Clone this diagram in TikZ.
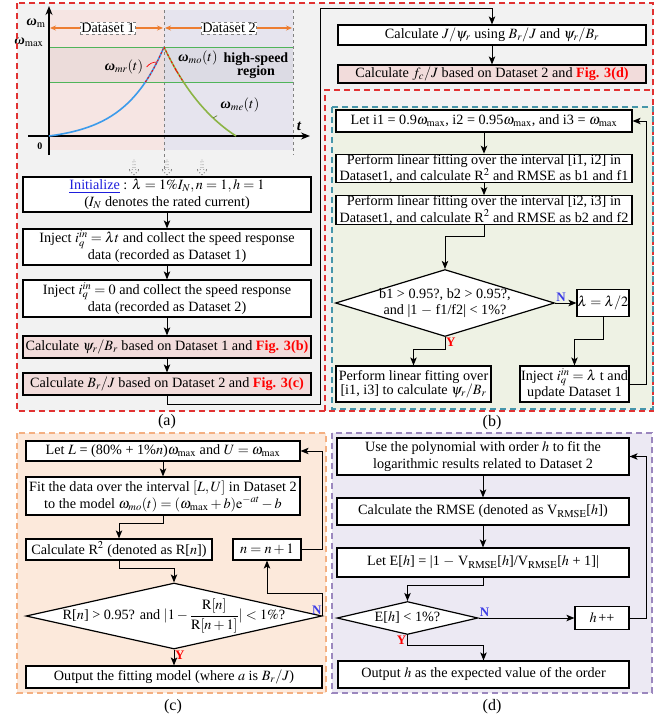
\documentclass[tikz,border=0pt]{standalone}
\usepackage{amsmath}
\usepackage{mathptmx}
\usepackage{fontspec}
\setmainfont{Liberation Serif}
\usetikzlibrary{arrows.meta,shapes.geometric,shapes.arrows}
\definecolor{panelgray}{RGB}{242,242,242}
\definecolor{panelgreen}{RGB}{238,242,228}
\definecolor{panelorange}{RGB}{252,233,219}
\definecolor{panelviolet}{RGB}{236,233,243}
\definecolor{setone}{RGB}{246,229,227}
\definecolor{settwo}{RGB}{230,228,238}
\definecolor{boxpink}{RGB}{242,220,219}
\definecolor{framered}{RGB}{225,50,50}
\definecolor{frameteal}{RGB}{70,150,170}
\definecolor{frameorange}{RGB}{244,176,130}
\definecolor{frameviolet}{RGB}{155,135,190}
\definecolor{dataorange}{RGB}{237,125,49}
\definecolor{speedgreen}{RGB}{80,180,90}
\definecolor{curveblue}{RGB}{60,155,235}
\definecolor{curvegreen}{RGB}{140,180,70}
\definecolor{linkblue}{RGB}{30,30,220}
\definecolor{noblue}{RGB}{60,60,230}
\newcommand{\bw}{{\bfseries\itshape ω}}
\tikzset{
  procbox/.style={draw, line width=1.2pt, fill=white, align=center, inner sep=0pt},
  pinkbox/.style={procbox, fill=boxpink},
  tight/.style={font=\fontsize{14.2}{13.8}\selectfont},
  decision/.style={diamond, draw, line width=1.2pt, fill=white, inner sep=0pt},
  flow/.style={line width=1pt, -{Stealth[length=8pt, width=6.5pt, inset=2pt]}},
  panelframe/.style={line width=1.1pt, dash pattern=on 6pt off 4pt},
  yeslabel/.style={text=red, font=\bfseries\fontsize{13}{13}\selectfont, inner sep=1pt},
  nolabel/.style={text=noblue, font=\bfseries\fontsize{13}{13}\selectfont, inner sep=1pt},
  setlabel/.style={draw=gray, dashed, fill=white, inner sep=1pt},
  hollowarrow/.style={single arrow, draw=gray, dotted, line width=.8pt, shape border rotate=270,
    minimum height=15pt, minimum width=11pt, single arrow head extend=2pt, inner sep=0pt},
  caption/.style={font=\fontsize{16}{16}\selectfont}
}
\begin{document}
\begin{tikzpicture}[x=1pt, y=-1pt, font=\fontsize{14.2}{17}\selectfont]
\useasboundingbox (0,0) rectangle (668,721);
% panel backgrounds
\fill[panelgray] (17,3) rectangle (653,411); %
\fill[panelgreen] (332,107) rectangle (653,409); %
\fill[panelorange] (17,433) rectangle (326,693); %
\fill[panelviolet] (332,433) rectangle (652,693); %

% speed response graph
\fill[setone] (49,10) rectangle (164,150); %
\fill[settwo] (164,10) rectangle (293,150); %
\fill[black, opacity=.04] (49,47) rectangle (293,82); %
\draw[gray, dashed, line width=.8pt] (164,10) -- (164,172); %
\draw[gray, dashed, line width=.8pt] (293,10) -- (293,155); %
\draw[speedgreen, line width=.8pt] (49,47) -- (293,47) (49,82) -- (293,82); %
\draw[line width=1.3pt, -{Stealth[length=9pt, width=7pt]}] (28,136) -- (310,136); %
\draw[line width=1.3pt, -{Stealth[length=9pt, width=7pt]}] (49,155) -- (49,6); %
\draw[curveblue, line width=1.6pt] plot[domain=49:164, samples=60] (\x, {136-5.33*(exp(0.025*(\x-49))-1)}); %
\draw[curvegreen, line width=1.6pt] plot[domain=164:236, samples=50] (\x, {136-(129*exp(-0.01626*(\x-164))-40)}); %
\draw[red, line width=.9pt, dash pattern=on 2pt off 2pt] plot[domain=145.4:164, samples=20] (\x, {136-5.33*(exp(0.025*(\x-49))-1)}); %
\draw[red, line width=.9pt, dash pattern=on 2pt off 2pt] plot[domain=164:183.5, samples=20] (\x, {136-(129*exp(-0.01626*(\x-164))-40)}); %
\draw[dataorange, line width=1.2pt, {Stealth[length=6pt, width=5pt]}-{Stealth[length=6pt, width=5pt]}] (50,28) -- (163,28); %
\draw[dataorange, line width=1.2pt, {Stealth[length=6pt, width=5pt]}-{Stealth[length=6pt, width=5pt]}] (165,28) -- (292,28); %
\node[setlabel] (dsA) at (108,28) {Dataset 1}; %
\node[setlabel] (dsB) at (229,28) {Dataset 2}; %
\node (wm) at (36,23) {\bw$_{\mathrm{m}}$}; %
\node (wmax) at (29,42) {\bw$_{\max}$}; %
\node[font=\bfseries] (orig) at (40,146) {0}; %
\node[font=\bfseries\itshape\fontsize{15}{15}\selectfont] (tlab) at (299,126) {t}; %
\node (wmr) at (124,67) {\bw$_{mr}(t)$}; %
\node (wmo) at (198,58) {\bw$_{mo}(t)$}; %
\node (wme) at (240,105) {\bw$_{me}(t)$}; %
\node[font=\bfseries\fontsize{14}{13}\selectfont, align=center] (hsr) at (256,66) {high-speed\\region}; %
\coordinate (onmr) at (157,62); %
\coordinate (onmo) at (177,72); %
\coordinate (onme) at (213,118); %
\draw[red, line width=.7pt] (wmr.east) to[bend left=25] (onmr); %
\draw[red, line width=.7pt] (wmo.south west) to[bend left=15] (onmo); %
\draw[curvegreen!70!black, line width=.7pt] (wme.south west) to[bend left=15] (onme); %
\foreach \px/\nm in {134/pa, 167/pb, 202/pc}
  \node[hollowarrow] (\nm) at (\px,167) {}; %

% (a) flow
\node[procbox, minimum width=288, minimum height=35] (init) at (167,194.5)
  {{\color{linkblue}\underline{Initialize}} : $\lambda = 1\%I_{N}, n = 1, h = 1$\\($I_{N}$ denotes the rated current)};
\node[procbox, minimum width=288, minimum height=36] (injA) at (167,247)
  {Inject $i_q^{in} = \lambda t$ and collect the speed response\\data (recorded as Dataset 1)};
\node[procbox, minimum width=288, minimum height=37] (injB) at (167,298.5)
  {Inject $i_q^{in} = 0$ and collect the speed response\\data (recorded as Dataset 2)};
\node[pinkbox, minimum width=288, minimum height=22] (calcA) at (167,347)
  {Calculate $\psi_r/B_r$ based on Dataset 1 and \textcolor{red}{\textbf{Fig. 3(b)}}};
\node[pinkbox, minimum width=288, minimum height=22] (calcB) at (167,384)
  {Calculate $B_r/J$ based on Dataset 2 and \textcolor{red}{\textbf{Fig. 3(c)}}};
\node[procbox, minimum width=308, minimum height=20] (jpsi) at (492,35)
  {Calculate $J/\psi_r$ using $B_r/J$ and $\psi_r/B_r$};
\node[pinkbox, minimum width=308, minimum height=18] (fcj) at (492,74)
  {Calculate $f_c/J$ based on Dataset 2 and \textcolor{red}{\textbf{Fig. 3(d)}}};
\coordinate (retA) at (320,404); %
\coordinate (retB) at (320,8); %
\draw[flow] (init) -- (injA); %
\draw[flow] (injA) -- (injB); %
\draw[flow] (injB) -- (calcA); %
\draw[flow] (calcA) -- (calcB); %
\draw[flow] (calcB.south) |- (retA) -- (retB) -| (jpsi.north); %
\draw[flow] (jpsi) -- (fcj); %
\node[caption] (capA) at (167,422) {(a)}; %

% (b) flow
\node[procbox, minimum width=296, minimum height=22] (letb) at (484,121)
  {Let i1 = 0.9$\omega_{\max}$, i2 = 0.95$\omega_{\max}$, and i3 = $\omega_{\max}$};
\node[procbox, tight, minimum width=296, minimum height=27] (fitA) at (484,168.5)
  {Perform linear fitting over the interval [i1, i2] in\\Dataset1, and calculate R$^2$ and RMSE as b1 and f1};
\node[procbox, tight, minimum width=296, minimum height=26] (fitB) at (484,210)
  {Perform linear fitting over the interval [i2, i3] in\\Dataset1, and calculate R$^2$ and RMSE as b2 and f2};
\node[decision, minimum width=219, minimum height=67,
  label={[align=center, font=\fontsize{14.2}{16}\selectfont]center:b1 > 0.95?, b2 > 0.95?,\\and |1 $-$ f1/f2| < 1\%?}] (decB) at (445,303) {};
\node[procbox, minimum width=52, minimum height=27] (lam) at (603,303) {$\lambda = \lambda/2$};
\node[procbox, tight, minimum width=109, minimum height=36] (injC) at (574.5,384)
  {Inject $i_q^{in} = \lambda$ t and\\update Dataset 1};
\node[procbox, tight, minimum width=155, minimum height=36] (linB) at (413.5,384)
  {Perform linear fitting over\\{}[i1, i3] to calculate $\psi_r/B_r$};
\draw[flow] (letb) -- (fitA); %
\draw[flow] (fitA) -- (fitB); %
\draw[flow] (fitB.south) -- ++(0,12) -| (decB.north); %
\draw[flow] (decB.east) -- (lam.west); %
\node[nolabel, anchor=south west] (nB) at (decB.east) {N}; %
\draw[flow] (lam.south) -- ++(0,22) -| (injC.north); %
\draw[flow] (injC.east) -- ++(17,0) |- (letb.east); %
\draw[flow] (decB.south) -- ++(0,12) -| (linB.north); %
\node[yeslabel, anchor=north west] (yB) at (decB.south) {Y}; %
\node[caption] (capB) at (492,423) {(b)}; %

% (c) flow
\node[procbox, minimum width=274, minimum height=20] (letc) at (163,451)
  {Let $L$ = (80\% + 1\%$n$)$\omega_{\max}$ and $U = \omega_{\max}$};
\node[procbox, minimum width=274, minimum height=38] (fitc) at (163,496)
  {Fit the data over the interval $[L,U]$ in Dataset 2\\to the model $\omega_{mo}(t) = (\omega_{\max} + b)\mathrm{e}^{-at} - b$};
\node[procbox, minimum width=186, minimum height=21] (Rc) at (119,549.5) {Calculate R$^2$ (denoted as R[$n$])};
\node[procbox, minimum width=68, minimum height=21] (nc) at (267,549.5) {$n = n + 1$};
\node[decision, minimum width=296, minimum height=66,
  label={center:R[$n$] > 0.95? and $|1 - \dfrac{\mathrm{R}[n]}{\mathrm{R}[n+1]}| < 1\%$?}] (decC) at (174,616) {};
\node[procbox, minimum width=296, minimum height=22] (outc) at (174,677)
  {Output the fitting model (where $a$ is $B_r/J$)};
\draw[flow] (letc) -- (fitc); %
\draw[flow] (fitc.south) -- ++(0,8) -| (Rc.north); %
\draw[flow] (Rc.south) -- ++(0,8) -| (decC.north); %
\draw[flow] (decC.east) -- ++(0,-23) -| (nc.south); %
\node[nolabel, anchor=south east] (nC) at (decC.east) {N}; %
\draw[flow] (nc.east) -- ++(21,0) |- (letc.east); %
\draw[flow] (decC.south) -- (outc.north); %
\node[yeslabel, anchor=north west] (yC) at (decC.south) {Y}; %
\node[caption] (capC) at (173,707) {(c)}; %

% (d) flow
\node[procbox, minimum width=292, minimum height=37] (usep) at (483,456.5)
  {Use the polynomial with order $h$ to fit the\\logarithmic results related to Dataset 2};
\node[procbox, minimum width=292, minimum height=27] (rmse) at (483,511.5)
  {Calculate the RMSE (denoted as V$_{\mathrm{RMSE}}$[$h$])};
\node[procbox, minimum width=292, minimum height=29] (leth) at (483,562.5)
  {Let E[$h$] = |1 $-$ V$_{\mathrm{RMSE}}$[$h$]/V$_{\mathrm{RMSE}}$[$h$ + 1]|};
\node[decision, minimum width=141, minimum height=33, label={center:E[$h$] < 1\%?}] (decD) at (407.5,618) {};
\node[procbox, minimum width=54, minimum height=23] (hpp) at (602,618) {$h\,$++};
\node[procbox, minimum width=291, minimum height=27] (outd) at (483.5,674.5)
  {Output $h$ as the expected value of the order};
\draw[flow] (usep) -- (rmse); %
\draw[flow] (rmse) -- (leth); %
\draw[flow] (leth.south) -- ++(0,8) -| (decD.north); %
\draw[flow] (decD.east) -- (hpp.west); %
\node[nolabel, anchor=south west] (nD) at (decD.east) {N}; %
\draw[flow] (hpp.east) -- ++(17,0) |- (usep.east); %
\draw[flow] (decD.south) -- ++(0,10) -| (outd.north); %
\node[yeslabel, anchor=north east] (yD) at (decD.south) {Y}; %
\node[caption] (capD) at (492,707) {(d)}; %

% panel frames
\draw[framered, panelframe] (17,3) rectangle (653,411); %
\draw[framered, panelframe] (325,411) -- (325,90) -- (653,90); %
\draw[frameteal, panelframe] (332,107) rectangle (653,409); %
\draw[frameorange, panelframe] (17,433) rectangle (326,693); %
\draw[frameviolet, panelframe] (332,433) rectangle (652,693); %
\end{tikzpicture}
\end{document}
